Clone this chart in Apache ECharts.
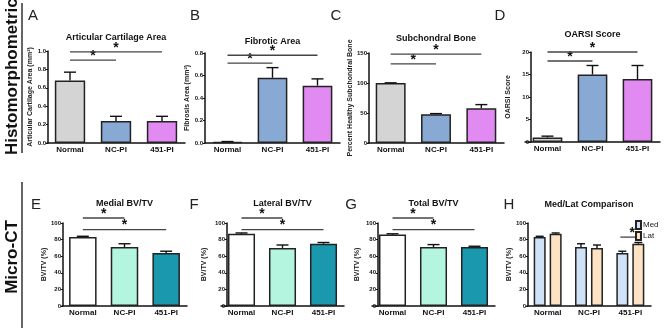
<!DOCTYPE html>
<html>
<head>
<meta charset="utf-8">
<script src="https://cdn.jsdelivr.net/npm/echarts@6/dist/echarts.min.js"></script>
<style>
  html, body { margin: 0; padding: 0; background: #fff; }
  #fig { width: 669px; height: 332px; }
</style>
</head>
<body>
<div id="fig"></div>
<script>
const groups = ['Normal', 'NC-PI', '451-PI'];

// histomorphometrics (mean, SEM)
const cartilageMean = [0.68, 0.24, 0.24];
const cartilageSem = [0.09, 0.05, 0.05];
const fibrosisMean = [0.01, 0.58, 0.51];
const fibrosisSem = [0.003, 0.09, 0.06];
const subchondralMean = [100, 48, 58];
const subchondralSem = [0.3, 1, 6];
const oarsiMean = [1.0, 15, 14];
const oarsiSem = [0.3, 2, 3];

// micro-CT BV/TV (%)
const medialMean = [83, 71, 64];
const medialSem = [1, 4, 2];
const lateralMean = [87, 70, 75];
const lateralSem = [1, 3.5, 1.5];
const totalMean = [86, 71, 71];
const totalSem = [1, 3, 1];

// significance brackets: [from group, to group, height]
const sigA = [[0, 1, 0.90], [0, 2, 0.99]];
const sigB = [[0, 1, 0.71], [0, 2, 0.78]];
const sigC = [[0, 1, 132], [0, 2, 148]];
const sigD = [[0, 1, 18], [0, 2, 20]];
const sigE = [[0, 1, 106], [0, 2, 92]];
const sigF = [[0, 1, 106], [0, 2, 92]];
const sigG = [[0, 1, 106], [0, 2, 92]];
const sigH = [[2, 83]];  // Med vs Lat within 451-PI

const topColors = ['#d4d4d4', '#88a9d4', '#e08af2'];
const ctColors = ['#ffffff', '#b3f5de', '#1a98ad'];
const FONT = 'Liberation Sans';

const panels = [
  { letter: 'A', lx: 33, ly: 16, title: 'Articular Cartilage Area', ty: 38, yName: 'Articular Cartilage Area (mm²)',
    mean: cartilageMean, sem: cartilageSem, sig: sigA, max: 1.0, interval: 0.2, dec: 1, colors: topColors,
    grid: { left: 47, top: 51, width: 138, height: 92 }, yOff: -1, nameGap: 14 },
  { letter: 'B', lx: 195, ly: 16, title: 'Fibrotic Area', ty: 42, yName: 'Fibrosis Area (mm²)',
    mean: fibrosisMean, sem: fibrosisSem, sig: sigB, max: 0.8, interval: 0.2, dec: 1, colors: topColors,
    grid: { left: 205, top: 53, width: 135, height: 90 }, yOff: 0, nameGap: 11 },
  { letter: 'C', lx: 336, ly: 16, title: 'Subchondral Bone', ty: 39, yName: 'Percent Healthy Subchondral Bone',
    mean: subchondralMean, sem: subchondralSem, sig: sigC, max: 150, interval: 50, dec: 0, colors: topColors,
    grid: { left: 368, top: 53, width: 136, height: 90 }, yOff: -1, nameGap: 15 },
  { letter: 'D', lx: 500, ly: 16, title: 'OARSI Score', ty: 35, yName: 'OARSI Score',
    mean: oarsiMean, sem: oarsiSem, sig: sigD, max: 20, interval: 5, dec: 0, colors: topColors,
    grid: { left: 525, top: 52, width: 135, height: 90 }, yOff: -6, nameGap: 19 },
  { letter: 'E', lx: 36, ly: 205, title: 'Medial BV/TV', ty: 204, yName: 'BV/TV (%)',
    mean: medialMean, sem: medialSem, sig: sigE, max: 100, interval: 20, dec: 0, colors: ctColors,
    grid: { left: 62, top: 223, width: 125, height: 83 }, yOff: -1, nameGap: 14 },
  { letter: 'F', lx: 194, ly: 205, title: 'Lateral BV/TV', ty: 204, yName: 'BV/TV (%)',
    mean: lateralMean, sem: lateralSem, sig: sigF, max: 100, interval: 20, dec: 0, colors: ctColors,
    grid: { left: 221, top: 223, width: 123, height: 83 }, yOff: -6, nameGap: 19 },
  { letter: 'G', lx: 351, ly: 205, title: 'Total BV/TV', ty: 204, yName: 'BV/TV (%)',
    mean: totalMean, sem: totalSem, sig: sigG, max: 100, interval: 20, dec: 0, colors: ctColors,
    grid: { left: 372, top: 223, width: 123, height: 83 }, yOff: -6, nameGap: 17 },
  { letter: 'H', lx: 509, ly: 205, title: 'Med/Lat Comparison', ty: 205, yName: 'BV/TV (%)',
    max: 100, interval: 20, dec: 0,
    grid: { left: 527, top: 223, width: 124, height: 83 }, yOff: -1, nameGap: 12 }
];

const lineStyle = { stroke: '#111', lineWidth: 1.4 };

function errorBars(offset, cap) {
  return function (params, api) {
    const x = api.value(0);
    const p0 = api.coord([x, api.value(1)]);
    const p1 = api.coord([x, api.value(2)]);
    const cx = p0[0] + offset;
    return {
      type: 'group',
      children: [
        { type: 'line', shape: { x1: cx, y1: p0[1], x2: cx, y2: p1[1] }, style: lineStyle },
        { type: 'line', shape: { x1: cx - cap, y1: p1[1], x2: cx + cap, y2: p1[1] }, style: lineStyle }
      ]
    };
  };
}

function sigBracket(params, api) {
  const a = api.coord([api.value(0), api.value(2)]);
  const b = api.coord([api.value(1), api.value(2)]);
  return {
    type: 'group',
    children: [
      { type: 'line', shape: { x1: a[0], y1: a[1], x2: b[0], y2: b[1] }, style: { stroke: '#444', lineWidth: 1.3 } },
      { type: 'text', x: (a[0] + b[0]) / 2, y: a[1] + 3,
        style: { text: '*', font: 'bold 14px ' + FONT, fill: '#111', align: 'center', verticalAlign: 'bottom' } }
    ]
  };
}

function sigPair(params, api) {
  const p = api.coord([api.value(0), api.value(1)]);
  return {
    type: 'group',
    children: [
      { type: 'line', shape: { x1: p[0] - 10, y1: p[1], x2: p[0] + 10, y2: p[1] }, style: { stroke: '#444', lineWidth: 1.3 } },
      { type: 'text', x: p[0] + 2, y: p[1] + 3,
        style: { text: '*', font: 'bold 14px ' + FONT, fill: '#111', align: 'center', verticalAlign: 'bottom' } }
    ]
  };
}

const grids = [], xAxes = [], yAxes = [], titles = [], series = [];

panels.forEach((p, i) => {
  grids.push(Object.assign({ containLabel: false }, p.grid));
  xAxes.push({
    type: 'category', gridIndex: i, data: groups,
    axisLine: { lineStyle: { color: '#111', width: 1.5 } },
    axisTick: { show: false },
    axisLabel: { interval: 0, margin: 3, color: '#111', fontFamily: FONT, fontWeight: 'bold', fontSize: 8 }
  });
  yAxes.push({
    type: 'value', gridIndex: i, min: 0, max: p.max, interval: p.interval, offset: p.yOff,
    name: p.yName, nameLocation: 'middle', nameRotate: 90, nameGap: p.nameGap,
    nameTextStyle: { fontFamily: FONT, fontWeight: 'bold', fontSize: 7, color: '#222' },
    splitLine: { show: false },
    axisLine: { show: true, lineStyle: { color: '#111', width: 1.5 } },
    axisTick: { show: true, length: 2, lineStyle: { color: '#111', width: 1 } },
    axisLabel: { margin: 2, color: '#111', fontFamily: FONT, fontWeight: 'bold', fontSize: 6,
      formatter: v => v.toFixed(p.dec) }
  });
  titles.push({
    text: p.title, left: p.grid.left + p.grid.width / 2, top: p.ty - 5, textAlign: 'center', padding: 0,
    textStyle: { fontFamily: FONT, fontWeight: 'bold', fontSize: 9, color: '#111' }
  });
  titles.push({
    text: p.letter, left: p.lx, top: p.ly - 8, textAlign: 'center', padding: 0,
    textStyle: { fontFamily: FONT, fontWeight: 'normal', fontSize: 15, color: '#222' }
  });

  if (p.letter !== 'H') {
    series.push({
      type: 'bar', xAxisIndex: i, yAxisIndex: i, barWidth: '66%', silent: true,
      data: p.mean.map((v, k) => ({ value: v, itemStyle: { color: p.colors[k] } })),
      itemStyle: { borderColor: '#222', borderWidth: 1.5 }
    });
    series.push({
      type: 'custom', xAxisIndex: i, yAxisIndex: i, silent: true, z: 3,
      renderItem: errorBars(0, 6),
      data: p.mean.map((v, k) => [k, v, v + p.sem[k]])
    });
    series.push({
      type: 'custom', xAxisIndex: i, yAxisIndex: i, silent: true, clip: false, z: 3,
      renderItem: sigBracket, data: p.sig
    });
  } else {
    const barCommon = { type: 'bar', xAxisIndex: i, yAxisIndex: i, barWidth: 12, barGap: '33%', silent: true };
    series.push(Object.assign({ name: 'Med', data: medialMean,
      itemStyle: { color: '#cfe2f8', borderColor: '#222', borderWidth: 1.5 } }, barCommon));
    series.push(Object.assign({ name: 'Lat', data: lateralMean,
      itemStyle: { color: '#fde3c3', borderColor: '#222', borderWidth: 1.5 } }, barCommon));
    series.push({
      type: 'custom', xAxisIndex: i, yAxisIndex: i, silent: true, z: 3,
      renderItem: errorBars(-8, 4),
      data: medialMean.map((v, k) => [k, v, v + medialSem[k]])
    });
    series.push({
      type: 'custom', xAxisIndex: i, yAxisIndex: i, silent: true, z: 3,
      renderItem: errorBars(8, 4),
      data: lateralMean.map((v, k) => [k, v, v + lateralSem[k]])
    });
    series.push({
      type: 'custom', xAxisIndex: i, yAxisIndex: i, silent: true, clip: false, z: 3,
      renderItem: sigPair, data: sigH
    });
  }
});

const chart = echarts.init(document.getElementById('fig'), null, { renderer: 'canvas' });
chart.setOption({
  animation: false,
  backgroundColor: '#fff',
  title: titles,
  grid: grids,
  xAxis: xAxes,
  yAxis: yAxes,
  legend: {
    data: ['Med', 'Lat'], orient: 'vertical', left: 635, top: 220, padding: 0,
    icon: 'rect', itemWidth: 5, itemHeight: 8, itemGap: 1,
    textStyle: { fontFamily: FONT, fontSize: 8, color: '#222', padding: [0, 0, 0, -3] }
  },
  graphic: [
    { type: 'text', x: 12, y: 72, rotation: Math.PI / 2,
      style: { text: 'Histomorphometrics', font: 'bold 17px ' + FONT, fill: '#111', align: 'center', verticalAlign: 'middle' } },
    { type: 'text', x: 12, y: 257, rotation: Math.PI / 2,
      style: { text: 'Micro-CT', font: 'bold 17px ' + FONT, fill: '#111', align: 'center', verticalAlign: 'middle' } },
    { type: 'line', shape: { x1: 22, y1: 3, x2: 22, y2: 153 }, style: { stroke: '#666', lineWidth: 2 } },
    { type: 'line', shape: { x1: 22, y1: 182, x2: 22, y2: 328 }, style: { stroke: '#666', lineWidth: 2 } }
  ],
  series: series
});
</script>
</body>
</html>
